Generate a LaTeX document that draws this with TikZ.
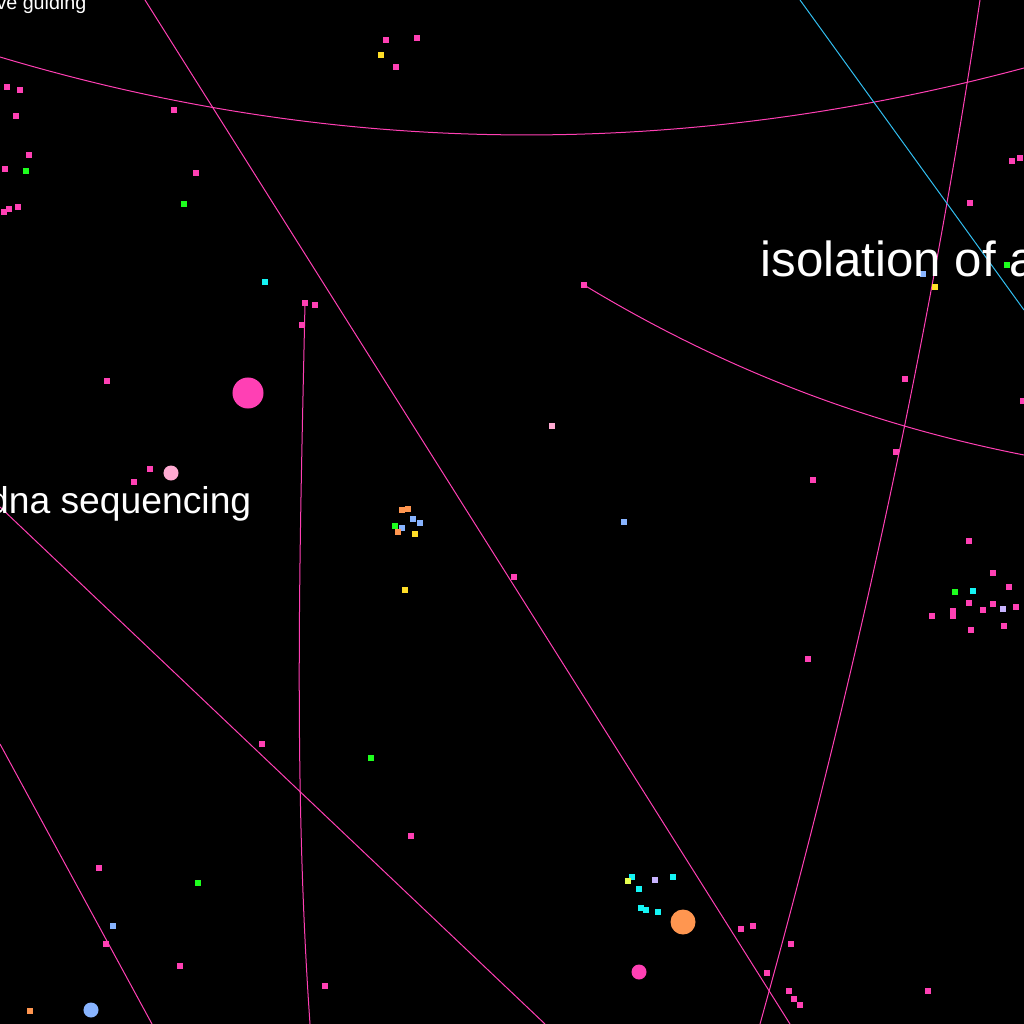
\documentclass[tikz,border=0pt]{standalone}
\usepackage{fontspec}
\setmainfont{Liberation Sans}
\definecolor{pk}{RGB}{255,64,180}
\definecolor{gr}{RGB}{30,255,30}
\definecolor{yl}{RGB}{255,222,40}
\definecolor{cy}{RGB}{20,245,245}
\definecolor{lb}{RGB}{136,180,255}
\definecolor{og}{RGB}{255,150,80}
\definecolor{lv}{RGB}{200,180,255}
\definecolor{yg}{RGB}{230,255,80}
\definecolor{lp}{RGB}{255,170,210}
\definecolor{sky}{RGB}{50,190,240}
\pgfdeclarelayer{back}
\pgfdeclarelayer{links}
\pgfsetlayers{back,links,main}

\begin{document}
\begin{tikzpicture}[x=0.01cm,y=-0.01cm,
  edge/.style={draw=pk,line width=0.1mm},
  dot/.style={rectangle,fill=#1,inner sep=0pt,minimum size=0.55mm},
  blob/.style={circle,fill=#1,inner sep=0pt},
  lbl/.style={text=white,inner sep=0pt}]
\begin{pgfonlayer}{back}
\fill[black] (0,0) rectangle (1024,1024);
\end{pgfonlayer}
\useasboundingbox (0,0) rectangle (1024,1024);
% small dots
\foreach \px/\py [count=\i] in {386/40,417/38,396/67,7/87,20/90,16/116,29/155,5/169,18/207,9/209,4/212,174/110,196/173,305/303,315/305,302/325,107/381,150/469,134/482,584/285,514/577,262/744,411/836,99/868,106/944,180/966,325/986,741/929,753/926,791/944,767/973,789/991,794/999,800/1005,928/991,808/659,813/480,896/452,905/379,1023/401,970/203,1012/161,1020/158,969/541,993/573,1009/587,969/603,983/610,993/604,1016/607,953/611,953/616,932/616,971/630,1004/626}
  \node[dot=pk] (pk\i) at (\px,\py) {};
\foreach \px/\py [count=\i] in {26/171,184/204,395/526,371/758,198/883,955/592,1007/265}
  \node[dot=gr] (gr\i) at (\px,\py) {};
\foreach \px/\py [count=\i] in {381/55,415/534,405/590,935/287}
  \node[dot=yl] (yl\i) at (\px,\py) {};
\foreach \px/\py [count=\i] in {265/282,973/591,632/877,673/877,639/889,641/908,646/910,658/912}
  \node[dot=cy] (cy\i) at (\px,\py) {};
\foreach \px/\py [count=\i] in {413/519,420/523,402/528,624/522,113/926,923/274}
  \node[dot=lb] (lb\i) at (\px,\py) {};
\foreach \px/\py [count=\i] in {402/510,408/509,398/532,30/1011}
  \node[dot=og] (og\i) at (\px,\py) {};
\node[dot=lv] (lv1) at (655,880) {};
\node[dot=lv] (lv2) at (1003,609) {};
\node[dot=yg] (yg1) at (628,881) {};
\node[dot=lp] (lp1) at (552,426) {};
% big dots
\node[blob=pk,minimum size=3.1mm] (hubA) at (248,393) {};
\node[blob=lp,minimum size=1.5mm] (hubB) at (171,473) {};
\node[blob=og,minimum size=2.5mm] (hubC) at (683,922) {};
\node[blob=pk,minimum size=1.5mm] (hubD) at (639,972) {};
\node[blob=lb,minimum size=1.5mm] (hubE) at (91,1010) {};
% links, running off the page
\coordinate (e1a) at (0,57);
\coordinate (e1b) at (1024,68);
\coordinate (e2a) at (145,0);
\coordinate (e2b) at (790,1024);
\coordinate (e3a) at (980,0);
\coordinate (e3b) at (760,1024);
\coordinate (e4a) at (800,0);
\coordinate (e4b) at (1024,310);
\coordinate (e5b) at (1024,455);
\coordinate (e6b) at (310,1024);
\coordinate (e7a) at (0,507);
\coordinate (e7b) at (545,1024);
\coordinate (e8a) at (0,744);
\coordinate (e8b) at (152,1024);
\begin{pgfonlayer}{links}
\draw[edge] (e1a) .. controls (341,159) and (683,159) .. (e1b);
\draw[edge] (e2a) -- (e2b);
\draw[edge] (e3a) .. controls (929,341) and (855,683) .. (e3b);
\draw[edge,draw=sky] (e4a) -- (e4b);
\draw[edge] (pk20.center) .. controls (731,374) and (877,426) .. (e5b);
\draw[edge] (pk14.center) .. controls (300,540) and (293,780) .. (e6b);
\draw[edge] (e7a) -- (e7b);
\draw[edge] (e8a) -- (e8b);
\end{pgfonlayer}
% labels
\node[lbl,anchor=base east,font=\fontsize{5.6}{7}\selectfont] (t1) at (87,10) {ve guiding};
\node[lbl,anchor=base west,font=\fontsize{14}{17}\selectfont] (t2) at (760,276) {isolation of a};
\node[lbl,anchor=base east,font=\fontsize{10.6}{13}\selectfont] (t3) at (252,513) {dna sequencing};
\end{tikzpicture}
\end{document}
